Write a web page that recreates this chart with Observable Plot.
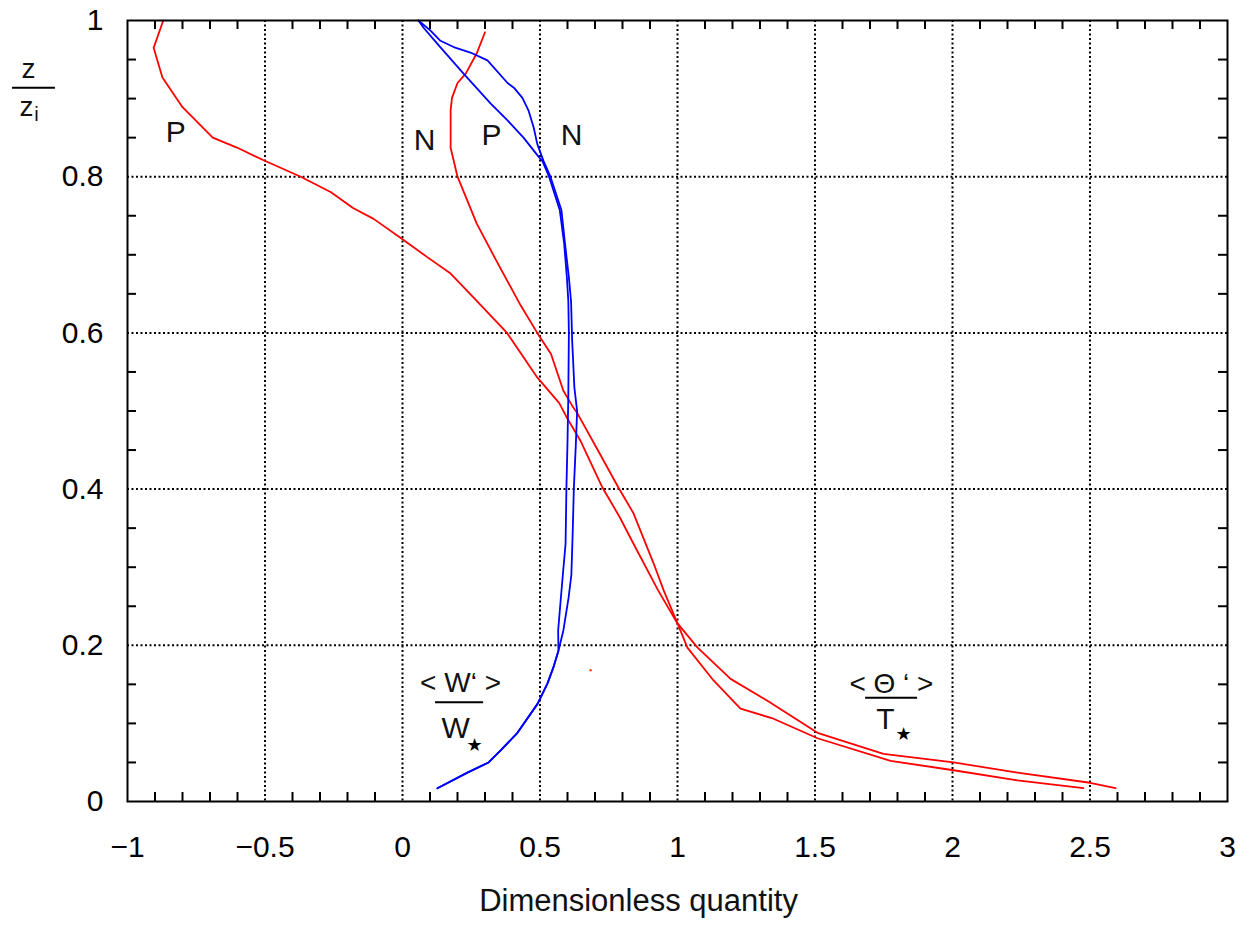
<!DOCTYPE html>
<html>
<head>
<meta charset="utf-8">
<script src="https://cdn.jsdelivr.net/npm/d3@7"></script>
<script src="https://cdn.jsdelivr.net/npm/@observablehq/plot@0.6"></script>
<style>
  html, body { margin: 0; padding: 0; background: #fff; }
  #chart svg { display: block; }
</style>
</head>
<body>
<div id="chart"></div>
<script>
// ---- Data ----
// Temperature-flux profile "P" (large sweep starting near x = -0.9)
const theta1X = [-0.87, -0.905, -0.873, -0.80, -0.69, -0.60, -0.505, -0.37, -0.26, -0.18, -0.105, 0.0, 0.09, 0.175, 0.27, 0.38, 0.49, 0.57, 0.60, 0.647, 0.727, 0.79, 0.84, 0.93, 1.0, 1.073, 1.193, 1.327, 1.509, 1.749, 2.004, 2.236, 2.50, 2.593];
const theta1Z = [1.0, 0.965, 0.927, 0.889, 0.85, 0.837, 0.821, 0.80, 0.78, 0.76, 0.746, 0.72, 0.697, 0.676, 0.641, 0.60, 0.543, 0.51, 0.49, 0.462, 0.402, 0.364, 0.33, 0.27, 0.228, 0.197, 0.157, 0.129, 0.088, 0.061, 0.050, 0.037, 0.024, 0.017];
// Temperature-flux profile "P" (middle one starting near x = 0.3)
const theta2X = [0.30, 0.27, 0.23, 0.20, 0.18, 0.175, 0.175, 0.20, 0.27, 0.345, 0.43, 0.49, 0.54, 0.585, 0.62, 0.636, 0.71, 0.785, 0.84, 0.913, 0.95, 1.0, 1.036, 1.131, 1.229, 1.349, 1.509, 1.775, 2.004, 2.236, 2.476];
const theta2Z = [0.985, 0.958, 0.932, 0.92, 0.901, 0.885, 0.837, 0.80, 0.74, 0.69, 0.635, 0.60, 0.573, 0.526, 0.505, 0.497, 0.45, 0.402, 0.369, 0.305, 0.27, 0.228, 0.197, 0.155, 0.119, 0.106, 0.081, 0.052, 0.040, 0.027, 0.017];
// Vertical-velocity profiles "N"
const w1X = [0.127, 0.236, 0.313, 0.356, 0.418, 0.491, 0.527, 0.549, 0.567, 0.566, 0.575, 0.583, 0.593, 0.596, 0.600, 0.603, 0.605, 0.603, 0.598, 0.588, 0.572, 0.533, 0.509, 0.496, 0.44, 0.382, 0.32, 0.222, 0.127, 0.076, 0.058];
const w1Z = [0.017, 0.037, 0.050, 0.065, 0.088, 0.125, 0.151, 0.172, 0.193, 0.219, 0.257, 0.29, 0.33, 0.40, 0.46, 0.52, 0.60, 0.64, 0.67, 0.714, 0.757, 0.80, 0.82, 0.825, 0.85, 0.872, 0.894, 0.932, 0.970, 0.991, 1.0];
const w2X = [0.127, 0.236, 0.313, 0.356, 0.418, 0.491, 0.527, 0.549, 0.567, 0.585, 0.604, 0.614, 0.619, 0.623, 0.630, 0.635, 0.625, 0.617, 0.613, 0.605, 0.591, 0.578, 0.538, 0.513, 0.49, 0.477, 0.458, 0.436, 0.405, 0.382, 0.309, 0.247, 0.186, 0.138, 0.102, 0.058];
const w2Z = [0.017, 0.037, 0.050, 0.065, 0.088, 0.125, 0.151, 0.172, 0.193, 0.219, 0.261, 0.29, 0.345, 0.40, 0.455, 0.50, 0.53, 0.59, 0.64, 0.671, 0.714, 0.757, 0.80, 0.82, 0.842, 0.863, 0.885, 0.901, 0.914, 0.92, 0.949, 0.959, 0.966, 0.974, 0.987, 1.0];
// stray dot in the picture
const strayX = [0.684];
const strayZ = [0.168];

// Axis ticks
const xMajorTicks = [-1, -0.5, 0, 0.5, 1, 1.5, 2, 2.5, 3];
const yMajorTicks = [0, 0.2, 0.4, 0.6, 0.8, 1];
const xGridTicks = [-0.5, 0, 0.5, 1, 1.5, 2, 2.5];
const yGridTicks = [0.2, 0.4, 0.6, 0.8];
const xMinorTicks = d3.range(-9, 30).map(i => i / 10).filter(v => Math.abs(v * 2 - Math.round(v * 2)) > 1e-6);
const yMinorTicks = d3.range(1, 20).map(i => i / 20).filter(v => Math.abs(v * 5 - Math.round(v * 5)) > 1e-6);
const xTitle = ["Dimensionless quantity"];

// Text labels
const curveLabels = [
  {x: -0.825, z: 0.857, text: "P"},
  {x: 0.08, z: 0.846, text: "N"},
  {x: 0.324, z: 0.853, text: "P"},
  {x: 0.615, z: 0.853, text: "N"}
];
const fracNumerators = [
  {x: 0.211, z: 0.152, text: "< W‘ >"},
  {x: 1.778, z: 0.151, text: "< Θ ‘ >"}
];
const fracBars = [
  {x1: 0.12, x2: 0.295, z: 0.127},
  {x1: 1.684, x2: 1.873, z: 0.133}
];
const fracDenoms = [
  {x: 0.193, z: 0.093, text: "W"},
  {x: 1.756, z: 0.105, text: "T"}
];
const fracStars = [
  {x: 0.262, z: 0.072, text: "★"},
  {x: 1.822, z: 0.086, text: "★"}
];
const yLabelParts = [
  {x: -1.36, z: 0.938, text: "z", size: 28},
  {x: -1.367, z: 0.889, text: "z", size: 28},
  {x: -1.331, z: 0.879, text: "i", size: 20}
];
const yLabelBar = [{x1: -1.418, x2: -1.262, z: 0.914}];

const zip = (xs, zs) => xs.map((x, i) => ({x, z: zs[i]}));
const theta1 = zip(theta1X, theta1Z);
const theta2 = zip(theta2X, theta2Z);
const w1 = zip(w1X, w1Z);
const w2 = zip(w2X, w2Z);
const stray = zip(strayX, strayZ);

const W = 1249, H = 930, mL = 127, mR = 22, mT = 20, mB = 129;
const plotW = W - mL - mR, plotH = H - mT - mB;
const tickLen = 9;
const fmt = d3.format("~g");

const chart = Plot.plot({
  width: W,
  height: H,
  marginLeft: mL,
  marginRight: mR,
  marginTop: mT,
  marginBottom: mB,
  style: {fontFamily: "'Liberation Sans', Arial, sans-serif", fontSize: "30px", background: "#fff", color: "#000"},
  x: {domain: [-1, 3], ticks: xMajorTicks, tickSize: 0, tickPadding: 34, tickFormat: fmt, label: null},
  y: {domain: [0, 1], ticks: yMajorTicks, tickSize: 0, tickPadding: 24, tickFormat: fmt, label: null},
  marks: [
    Plot.ruleX(xGridTicks, {stroke: "#000", strokeWidth: 2, strokeDasharray: "2,2.5"}),
    Plot.ruleY(yGridTicks, {stroke: "#000", strokeWidth: 2, strokeDasharray: "2,2.5"}),
    Plot.tickX(xMinorTicks, {x: d => d, insetTop: plotH - tickLen, stroke: "#000", strokeWidth: 2}),
    Plot.tickX(xMinorTicks, {x: d => d, insetBottom: plotH - tickLen, stroke: "#000", strokeWidth: 2}),
    Plot.tickY(yMinorTicks, {y: d => d, insetRight: plotW - tickLen, stroke: "#000", strokeWidth: 2}),
    Plot.tickY(yMinorTicks, {y: d => d, insetLeft: plotW - tickLen, stroke: "#000", strokeWidth: 2}),
    Plot.line(theta1, {x: "x", y: "z", stroke: "#ff0000", strokeWidth: 1.8}),
    Plot.line(theta2, {x: "x", y: "z", stroke: "#ff0000", strokeWidth: 1.8}),
    Plot.line(w1, {x: "x", y: "z", stroke: "#0000ff", strokeWidth: 1.8}),
    Plot.line(w2, {x: "x", y: "z", stroke: "#0000ff", strokeWidth: 1.8}),
    Plot.dot(stray, {x: "x", y: "z", r: 1.2, fill: "#ff4400", stroke: null}),
    Plot.text(curveLabels, {x: "x", y: "z", text: "text", fontSize: 30, fill: "#111"}),
    Plot.text(fracNumerators, {x: "x", y: "z", text: "text", fontSize: 28, fill: "#111"}),
    Plot.ruleY(fracBars, {y: "z", x1: "x1", x2: "x2", stroke: "#000", strokeWidth: 2}),
    Plot.text(fracDenoms, {x: "x", y: "z", text: "text", fontSize: 30, fill: "#111"}),
    Plot.text(fracStars, {x: "x", y: "z", text: "text", fontSize: 18, fill: "#000", fontFamily: "DejaVu Sans"}),
    Plot.text(yLabelParts, {x: "x", y: "z", text: "text", fontSize: d => d.size, fill: "#111"}),
    Plot.ruleY(yLabelBar, {y: "z", x1: "x1", x2: "x2", stroke: "#000", strokeWidth: 2}),
    Plot.text(xTitle, {text: d => d, frameAnchor: "bottom", dx: -39, dy: 109, fontSize: 31, fill: "#111"}),
    Plot.frame({stroke: "#000", strokeWidth: 2})
  ]
});

document.getElementById("chart").appendChild(chart);
</script>
</body>
</html>
